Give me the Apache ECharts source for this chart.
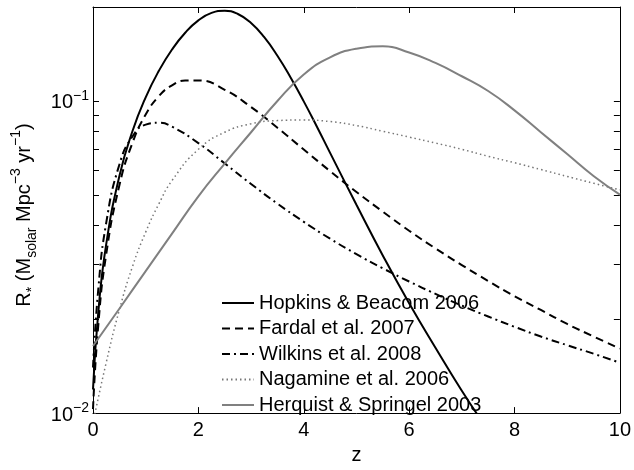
<!DOCTYPE html>
<html>
<head>
<meta charset="utf-8">
<script src="https://cdn.jsdelivr.net/npm/echarts@6/dist/echarts.min.js"></script>
<style>
html,body{margin:0;padding:0;background:#fff;}
#chart{width:634px;height:470px;}
</style>
</head>
<body>
<div id="chart"></div>
<script>
// ---- data ----
var seriesNames = ['Hopkins & Beacom 2006', 'Fardal et al. 2007', 'Wilkins et al. 2008', 'Nagamine et al. 2006', 'Herquist & Springel 2003'];

var zHopkins = [0,0.1,0.25,0.5,0.75,1,1.25,1.5,1.75,2,2.25,2.5,2.75,3,3.25,3.5,3.75,4,4.25,4.5,5,5.5,6,6.5,7,7.5];
var rHopkins = [0.0119,0.021,0.0347,0.0574,0.0801,0.1027,0.1249,0.1462,0.1654,0.1812,0.1915,0.1946,0.1899,0.1777,0.1601,0.1396,0.1189,0.0997,0.0827,0.0682,0.0465,0.032,0.0225,0.0162,0.0118,0.0088];

var zFardal = [0,0.1,0.25,0.5,0.75,1,1.25,1.5,1.75,2,2.5,3,3.5,4,4.5,5,5.5,6,6.5,7,7.5,8,8.5,9,9.5,10];
var rFardal = [0.0103,0.0191,0.0322,0.0536,0.0735,0.0905,0.1036,0.1122,0.1163,0.1164,0.1086,0.0956,0.0821,0.0699,0.0596,0.0511,0.0442,0.0384,0.0337,0.0298,0.0265,0.0237,0.0214,0.0193,0.0176,0.0161];

var zWilkins = [0,0.1,0.25,0.5,0.75,1,1.25,1.5,2,2.5,3,3.5,4,4.5,5,5.5,6,6.5,7,7.5,8,8.5,9,9.5,10];
var rWilkins = [0.014,0.0249,0.0406,0.0625,0.077,0.084,0.0851,0.0827,0.0733,0.0631,0.0542,0.0469,0.041,0.0362,0.0323,0.0291,0.0264,0.0241,0.0221,0.0204,0.0189,0.0176,0.0165,0.0155,0.0145];

var zNagamine = [0,0.25,0.5,0.75,1,1.25,1.5,2,2.5,3,3.5,4,4.5,5,5.5,6,6.5,7,7.5,8,8.5,9,9.5,10];
var rNagamine = [0.0093,0.0145,0.0214,0.0295,0.038,0.0468,0.0556,0.070,0.0794,0.0845,0.0865,0.0869,0.0859,0.0834,0.080,0.0766,0.0733,0.070,0.0665,0.0634,0.0603,0.0573,0.0545,0.0519];

var zHerquist = [0,0.5,1,1.5,2,2.5,3,3.5,4,4.5,5,5.5,6,6.5,7,7.5,8,8.5,9,9.5,10];
var rHerquist = [0.0164,0.0216,0.0285,0.0376,0.0495,0.063,0.0794,0.100,0.1216,0.138,0.147,0.1496,0.143,0.1324,0.120,0.1076,0.0933,0.0794,0.0676,0.0575,0.0501];

var xTicks = [0,2,4,6,8,10];
var yMajorTicks = [0.01, 0.1];
var yAllTicks = [0.01,0.02,0.03,0.04,0.05,0.06,0.07,0.08,0.09,0.1,0.2];
var yTickLabels = {'0.01': '−2', '0.1': '−1'};

// ---- chart ----
var FONT = "'Liberation Sans', Arial, Helvetica, sans-serif";
function pairs(zs, rs){ return zs.map(function(z,i){ return [z, rs[i]]; }); }

var chart = echarts.init(document.getElementById('chart'), null, {renderer: 'canvas'});

var axisLineStyle = {color: '#000', width: 1};
var tickStyle = {color: '#000', width: 1};

var option = {
  animation: false,
  backgroundColor: '#fff',
  textStyle: {fontFamily: FONT},
  grid: {left: 93, right: 12, top: 7, bottom: 46, show: false},
  xAxis: [{
    type: 'value', min: 0, max: 10, interval: 2, position: 'bottom',
    name: 'z', nameLocation: 'middle', nameGap: 24,
    nameTextStyle: {fontSize: 20, color: '#000', fontFamily: FONT},
    axisLine: {show: true, onZero: false, lineStyle: axisLineStyle},
    axisTick: {show: true, inside: true, length: 6, lineStyle: tickStyle},
    axisLabel: {show: true, margin: 7, fontSize: 20, color: '#000', fontFamily: FONT},
    splitLine: {show: false}
  }, {
    type: 'value', min: 0, max: 10, interval: 2, position: 'top',
    axisLine: {show: true, onZero: false, lineStyle: axisLineStyle},
    axisTick: {show: true, inside: true, length: 6, lineStyle: tickStyle},
    axisLabel: {show: false},
    splitLine: {show: false}
  }],
  yAxis: [{
    type: 'log', logBase: 10, min: 0.01, max: 0.2, position: 'left',
    axisLine: {show: true, onZero: false, lineStyle: axisLineStyle},
    axisTick: {show: true, inside: true, length: 6, lineStyle: tickStyle, customValues: yAllTicks},
    axisLabel: {
      show: true, margin: 4, customValues: yMajorTicks,
      formatter: function(v){
        var k = (Math.abs(v - 0.01) < 1e-6) ? '0.01' : '0.1';
        return '{b|10}{s|' + yTickLabels[k] + '}';
      },
      rich: {
        b: {fontSize: 20, lineHeight: 24, verticalAlign: 'bottom', color: '#000', fontFamily: FONT},
        s: {fontSize: 14, lineHeight: 14, verticalAlign: 'top', color: '#000', fontFamily: FONT}
      }
    },
    splitLine: {show: false}
  }, {
    type: 'log', logBase: 10, min: 0.01, max: 0.2, position: 'right',
    axisLine: {show: true, onZero: false, lineStyle: axisLineStyle},
    axisTick: {show: true, inside: true, length: 6, lineStyle: tickStyle, customValues: yAllTicks},
    axisLabel: {show: false},
    splitLine: {show: false}
  }],
  legend: {
    orient: 'vertical', left: 221, top: 293,
    itemWidth: 32, itemHeight: 14, itemGap: 5.5,
    padding: 0,
    itemStyle: {opacity: 0},
    textStyle: {fontSize: 20, lineHeight: 20, color: '#000', fontFamily: FONT},
    data: seriesNames
  },
  graphic: [{
    type: 'text', x: 24, y: 215, rotation: Math.PI / 2,
    style: {
      text: '{t|R}{sub|*}{t| (M}{sub|solar}{t| Mpc}{sup|−3}{t| yr}{sup|−1}{t|)}',
      align: 'center', verticalAlign: 'middle',
      rich: {
        t: {fontSize: 20, lineHeight: 30, verticalAlign: 'middle', fill: '#000', fontFamily: FONT},
        sub: {fontSize: 14, lineHeight: 14, verticalAlign: 'bottom', fill: '#000', fontFamily: FONT},
        sup: {fontSize: 14, lineHeight: 14, verticalAlign: 'top', fill: '#000', fontFamily: FONT}
      }
    }
  }],
  series: [{
    name: seriesNames[0], type: 'line', symbol: 'none', smooth: true, clip: true,
    data: pairs(zHopkins, rHopkins),
    lineStyle: {color: '#000', width: 2, type: 'solid'}, itemStyle: {color: '#000'}
  }, {
    name: seriesNames[1], type: 'line', symbol: 'none', smooth: true, clip: true,
    data: pairs(zFardal, rFardal),
    lineStyle: {color: '#000', width: 2, type: [8, 5]}, itemStyle: {color: '#000'}
  }, {
    name: seriesNames[2], type: 'line', symbol: 'none', smooth: true, clip: true,
    data: pairs(zWilkins, rWilkins),
    lineStyle: {color: '#000', width: 2, type: [8, 4, 2, 4]}, itemStyle: {color: '#000'}
  }, {
    name: seriesNames[3], type: 'line', symbol: 'none', smooth: true, clip: true,
    data: pairs(zNagamine, rNagamine),
    lineStyle: {color: '#777', width: 1.5, type: [1.5, 3]}, itemStyle: {color: '#777'}
  }, {
    name: seriesNames[4], type: 'line', symbol: 'none', smooth: true, clip: true,
    data: pairs(zHerquist, rHerquist),
    lineStyle: {color: '#808080', width: 2, type: 'solid'}, itemStyle: {color: '#808080'}
  }]
};
chart.setOption(option);
</script>
</body>
</html>
